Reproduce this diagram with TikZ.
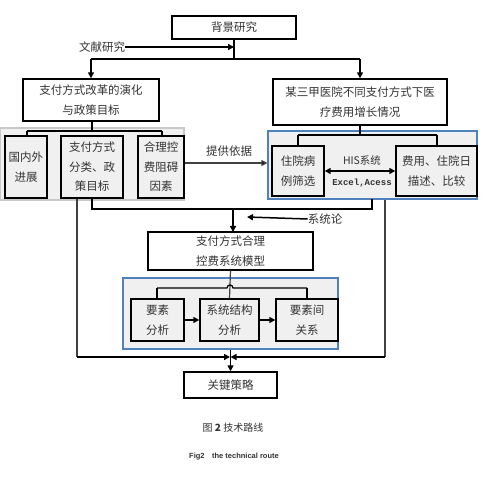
\documentclass[tikz,border=0pt]{standalone}
\usepackage{fontspec}
\newfontfamily\cjk{Noto Sans CJK SC}
\newfontfamily\monof{Liberation Mono}
\newfontfamily\sansf{Liberation Sans}
\usetikzlibrary{arrows.meta}
\definecolor{txt}{HTML}{333333}
\definecolor{gfill}{HTML}{F0F0F0}
\definecolor{bblue}{HTML}{4F81BD}
\definecolor{lgray}{HTML}{C8C8C8}
\definecolor{dgray}{HTML}{404040}
\begin{document}
\begin{tikzpicture}[x=1pt,y=-1pt,
  box/.style={draw=black,line width=1.4pt,fill=white,inner sep=0pt,align=center,
    font=\cjk\fontsize{11.5}{19.5}\selectfont,text=txt},
  gbox/.style={box,fill=gfill},
  grp/.style={draw=bblue,line width=1.2pt,fill=gfill,inner sep=0pt},
  conn/.style={line width=1.5pt,black},
  arr/.style={conn,-{Triangle[length=6pt,width=6pt]}},
  thinl/.style={line width=1.3pt,dgray},
  thinarr/.style={thinl,-{Triangle[length=6pt,width=6pt,fill=black]}},
  dblarr/.style={conn,{Triangle[length=6pt,width=6pt]}-{Triangle[length=6pt,width=6pt]}},
  lab/.style={font=\cjk\fontsize{11.5}{14}\selectfont,text=txt,inner sep=0pt}]
\useasboundingbox (0,0) rectangle (485,478);
\fill[white] (0,0) rectangle (485,478);

% groups
\node[grp,draw=lgray,minimum width=184pt,minimum height=72pt] (gL) at (92,164) {};
\node[grp,minimum width=209pt,minimum height=68pt] (gR) at (372.5,165) {};
\node[grp,minimum width=215pt,minimum height=71pt] (gM) at (230.5,313.5) {};

% boxes
\node[box,minimum width=124pt,minimum height=23pt] (bg) at (234,27.5) {背景研究};
\node[box,minimum width=136pt,minimum height=42pt] (L1) at (91,100) {支付方式改革的演化\\与政策目标};
\node[box,minimum width=174pt,minimum height=46pt] (R1) at (360,102) {某三甲医院不同支付方式下医\\疗费用增长情况};
\node[gbox,minimum width=42pt,minimum height=62pt] (a1) at (26,167) {国内外\\进展};
\node[gbox,minimum width=62pt,minimum height=62pt] (a2) at (92,167) {支付方式\\分类、政\\策目标};
\node[gbox,minimum width=46pt,minimum height=62pt] (a3) at (161,167) {合理控\\费阻碍\\因素};
\node[gbox,minimum width=52pt,minimum height=50pt] (b1) at (298,171) {住院病\\例筛选};
\node[gbox,minimum width=81pt,minimum height=50pt] (b2) at (436.5,171) {费用、住院日\\描述、比较};
\node[box,minimum width=165pt,minimum height=38pt] (model) at (230.5,251) {支付方式合理\\控费系统模型};
\node[gbox,minimum width=53pt,minimum height=42pt] (c1) at (157.5,320) {要素\\分析};
\node[gbox,minimum width=59pt,minimum height=42pt] (c2) at (229.5,320) {系统结构\\分析};
\node[gbox,minimum width=62pt,minimum height=42pt] (c3) at (307,320) {要素间\\关系};
\node[box,minimum width=93pt,minimum height=26pt] (key) at (230.5,385) {关键策略};

% labels
\node[lab] (wx) at (102,47) {文献研究};
\node[lab] (tg) at (229,151) {提供依据};
\node[lab,font=\cjk\fontsize{10.5}{12}\selectfont] (his) at (362,160) {HIS系统};
\node[lab,font=\monof\bfseries\fontsize{9}{10}\selectfont] (exc) at (362,183) {Excel,Acess};
\node[lab] (xtl) at (325,219) {系统论};
\node[lab,font=\cjk\fontsize{10}{12}\selectfont] (cap) at (233,428) {图 \textbf{2} 技术路线};
\node[lab,font=\sansf\bfseries\fontsize{7.5}{9}\selectfont] (capen) at (234,457) {Fig2\quad the technical route};

% top connectors
\coordinate (j1) at (234,59);
\draw[conn] (bg.south) -- (j1);
\draw[conn] (L1.north |- j1) -- (R1.north |- j1);
\draw[arr] (L1.north |- j1) -- (L1.north);
\draw[arr] (R1.north |- j1) -- (R1.north);
\draw[arr] (wx.east) -- (bg.south |- wx.east);

% left group connectors
\coordinate (j2) at (92,131);
\draw[conn,line width=1.2pt] (L1.south -| j2) -- (j2);
\draw[conn,line width=1.2pt] (27,131) -- (162,131);
\draw[conn,line width=1.2pt] (27,131) -- (27,136);
\draw[conn,line width=1.2pt] (162,131) -- (162,136);

% right group connectors
\draw[conn,line width=1.2pt] (R1.south) -- (360,135);
\draw[conn,line width=1.2pt] (298,135) -- (437,135);
\draw[conn,line width=1.2pt] (298,135) -- (b1.north);
\draw[conn,line width=1.2pt] (437,135) -- (437,146);
\draw[dblarr] (b1.east) -- (b2.west);

% provide basis
\draw[thinarr] ([yshift=4pt]a3.east) -- ([yshift=4pt]a3.east -| gR.west);

% merge to model
\draw[conn] (a2.south) -- (92,209) -- (372,209) -- (372,199);
\draw[arr] (233,209) -- (233,232);
\draw[arr] (xtl.west) -- (247,217);

% outer lines
\draw[thinl] ([xshift=-15pt]a2.south) -- (77,357);
\draw[thinl] ([xshift=12.5pt]gR.south) -- (385,357);
\draw[arr] (77,357) -- (230,357);
\draw[arr] (385,357) -- (230.5,357);

% model group connectors
\draw[conn,line width=1.2pt,dgray] (model.south) -- (c2.north);
\draw[conn,line width=1.2pt] (157,288) -- (227,288) .. controls (227,284) and (233,284) .. (233,288) -- (307,288);
\draw[conn,line width=1.2pt] (157,288) -- (157,299);
\draw[conn,line width=1.2pt] (307,288) -- (307,299);
\draw[arr] (c1.east) -- (c2.west);
\draw[arr] (c2.east) -- (c3.west);
\draw[arr] (gM.south) -- (key.north);
\end{tikzpicture}
\end{document}
